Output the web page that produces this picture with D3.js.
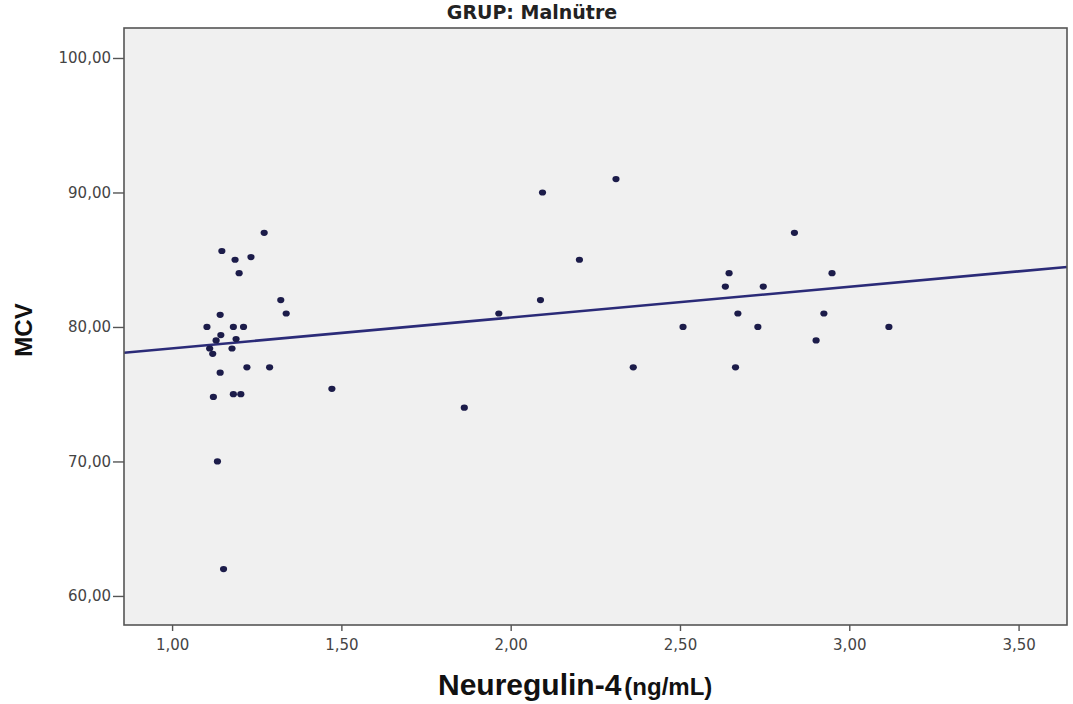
<!DOCTYPE html>
<html>
<head>
<meta charset="utf-8">
<script src="https://cdn.jsdelivr.net/npm/d3@7"></script>
<style>
  html, body { margin: 0; padding: 0; background: #ffffff; }
  svg { display: block; }
</style>
</head>
<body>
<svg id="chart" width="1073" height="704"></svg>
<script>
// ---- data ----
const chartTitle = "GRUP: Malnütre";
const xTitleMain = "Neuregulin-4";
const xTitleUnit = "(ng/mL)";
const yTitle = "MCV";
const xTicks = [1.0, 1.5, 2.0, 2.5, 3.0, 3.5];
const yTicks = [60, 70, 80, 90, 100];
const xDomain = [0.858, 3.643];
const yDomain = [57.84, 102.23];

const nrg4 = [
  1.272, 1.147, 1.186, 1.233, 1.198, 1.321, 1.337, 1.142, 1.103, 1.181,
  1.211, 1.144, 1.130, 1.189, 1.111, 1.120, 1.177, 1.221, 1.288, 1.142,
  1.122, 1.181, 1.203, 1.472, 1.134, 1.152,
  2.311, 2.094, 2.838, 2.203, 2.645, 2.949, 2.634, 2.746, 2.088, 1.965,
  2.671, 2.925, 2.509, 2.730, 3.117, 2.902, 2.362, 2.664, 1.863
];
const mcv = [
  87.0, 85.65, 85.0, 85.2, 84.0, 82.0, 81.0, 80.9, 80.0, 80.0,
  80.0, 79.4, 79.0, 79.1, 78.4, 78.0, 78.4, 77.0, 77.0, 76.6,
  74.8, 75.0, 75.0, 75.4, 70.0, 62.0,
  91.0, 90.0, 87.0, 85.0, 84.0, 84.0, 83.0, 83.0, 82.0, 81.0,
  81.0, 81.0, 80.0, 80.0, 80.0, 79.0, 77.0, 77.0, 74.0
];
// fit line (linear)
const fitIntercept = 76.12;
const fitSlope = 2.29;

// ---- layout ----
const svg = d3.select("#chart");
const plot = { left: 124, top: 28, right: 1067, bottom: 625 };

const x = d3.scaleLinear().domain(xDomain).range([plot.left, plot.right]);
const y = d3.scaleLinear().domain(yDomain).range([plot.bottom, plot.top]);
const fmt = v => d3.format(".2f")(v).replace(".", ",");
const tickFont = "DejaVu Sans, Verdana, sans-serif";

// plot background
svg.append("rect")
  .attr("x", plot.left).attr("y", plot.top)
  .attr("width", plot.right - plot.left).attr("height", plot.bottom - plot.top)
  .attr("fill", "#f0f0f0");

// axes
const xAxis = d3.axisBottom(x).tickValues(xTicks).tickFormat(fmt).tickSize(6).tickPadding(8);
const yAxis = d3.axisLeft(y).tickValues(yTicks).tickFormat(fmt).tickSize(11).tickPadding(2);

const gx = svg.append("g").attr("transform", `translate(0,${plot.bottom})`).call(xAxis);
const gy = svg.append("g").attr("transform", `translate(${plot.left},0)`).call(yAxis);
[gx, gy].forEach(g => {
  g.select(".domain").remove();
  g.selectAll(".tick line").attr("stroke", "#555").attr("stroke-width", 1.4);
  g.selectAll(".tick text")
    .attr("font-family", tickFont)
    .attr("font-size", 15).attr("fill", "#444");
});

// clip for line
svg.append("clipPath").attr("id", "clip")
  .append("rect").attr("x", plot.left).attr("y", plot.top)
  .attr("width", plot.right - plot.left).attr("height", plot.bottom - plot.top);

// fit line
svg.append("path")
  .datum(xDomain.map(v => [v, fitIntercept + fitSlope * v]))
  .attr("clip-path", "url(#clip)")
  .attr("d", d3.line().x(d => x(d[0])).y(d => y(d[1])))
  .attr("stroke", "#2b2b78").attr("stroke-width", 2.6).attr("fill", "none");

// points
svg.append("g").selectAll("ellipse")
  .data(nrg4.map((v, i) => [v, mcv[i]]))
  .join("ellipse")
  .attr("cx", d => x(d[0])).attr("cy", d => y(d[1]))
  .attr("rx", 3.6).attr("ry", 3.1)
  .attr("fill", "#1c1c4a");

// plot border
svg.append("rect")
  .attr("x", plot.left).attr("y", plot.top)
  .attr("width", plot.right - plot.left).attr("height", plot.bottom - plot.top)
  .attr("fill", "none").attr("stroke", "#555").attr("stroke-width", 1.6);

// title
svg.append("text")
  .attr("x", 532).attr("y", 19)
  .attr("text-anchor", "middle")
  .attr("font-family", tickFont)
  .attr("font-weight", "bold").attr("font-size", 19).attr("fill", "#222")
  .text(chartTitle);

// y title
svg.append("text")
  .attr("transform", `translate(32,330) rotate(-90)`)
  .attr("text-anchor", "middle")
  .attr("font-family", "Liberation Sans, Arial, sans-serif")
  .attr("font-weight", "bold").attr("font-size", 24).attr("fill", "#111")
  .text(yTitle);

// x title
const xt = svg.append("text")
  .attr("x", 438).attr("y", 695)
  .attr("text-anchor", "start")
  .attr("font-family", "Liberation Sans, Arial, sans-serif")
  .attr("font-weight", "bold").attr("fill", "#111");
xt.append("tspan").attr("font-size", 30).text(xTitleMain);
xt.append("tspan").attr("font-size", 24).attr("dx", 3).text(xTitleUnit);
</script>
</body>
</html>
